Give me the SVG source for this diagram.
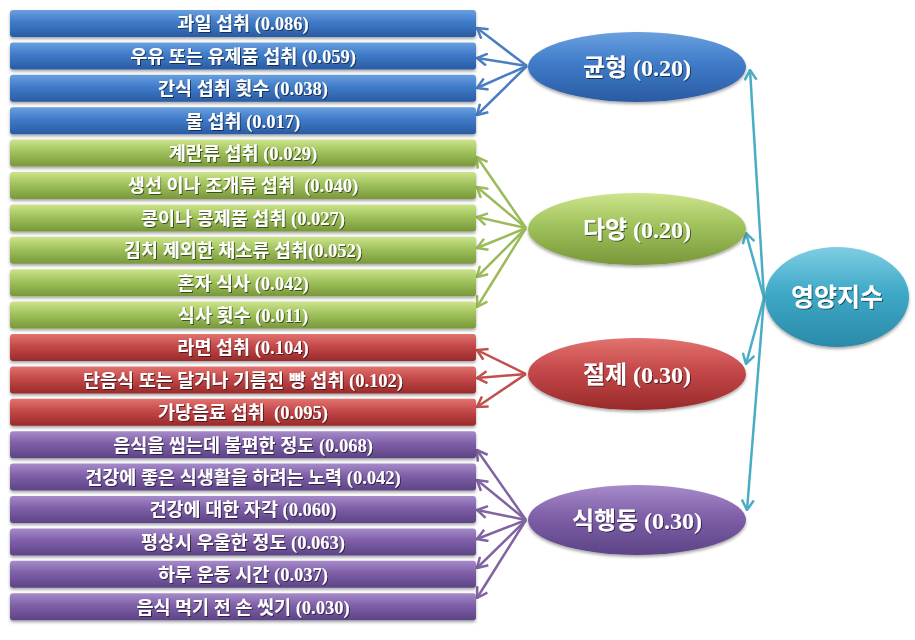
<svg xmlns="http://www.w3.org/2000/svg" width="915" height="640" viewBox="0 0 915 640">
<defs>
<linearGradient id="gB" x1="0" y1="0" x2="0" y2="1"><stop offset="0" stop-color="#6aa0df"/><stop offset="0.45" stop-color="#3f7bc8"/><stop offset="1" stop-color="#2a5ba3"/></linearGradient>
<linearGradient id="gG" x1="0" y1="0" x2="0" y2="1"><stop offset="0" stop-color="#cde48c"/><stop offset="0.45" stop-color="#a0c25c"/><stop offset="1" stop-color="#78983a"/></linearGradient>
<linearGradient id="gR" x1="0" y1="0" x2="0" y2="1"><stop offset="0" stop-color="#e2736e"/><stop offset="0.45" stop-color="#c4484a"/><stop offset="1" stop-color="#992a2a"/></linearGradient>
<linearGradient id="gP" x1="0" y1="0" x2="0" y2="1"><stop offset="0" stop-color="#a68bc9"/><stop offset="0.45" stop-color="#7f5fa8"/><stop offset="1" stop-color="#5c4485"/></linearGradient>
<linearGradient id="gC" x1="0" y1="0" x2="0" y2="1"><stop offset="0" stop-color="#7fcde3"/><stop offset="0.45" stop-color="#3fa9c8"/><stop offset="1" stop-color="#2a8aa8"/></linearGradient>
<filter id="sh" x="-5%" y="-20%" width="110%" height="150%"><feDropShadow dx="0" dy="2" stdDeviation="1.5" flood-color="#000" flood-opacity="0.35"/></filter>
<filter id="ts" x="-5%" y="-20%" width="110%" height="150%"><feDropShadow dx="1" dy="1" stdDeviation="0.6" flood-color="#000" flood-opacity="0.55"/></filter>
<marker id="mB" markerUnits="userSpaceOnUse" viewBox="0 0 12 14" refX="11" refY="7" markerWidth="12" markerHeight="14" orient="auto"><path d="M1,1 L11,7 L1,13" fill="none" stroke="#4a7ec0" stroke-width="2.5"/></marker>
<marker id="mG" markerUnits="userSpaceOnUse" viewBox="0 0 12 14" refX="11" refY="7" markerWidth="12" markerHeight="14" orient="auto"><path d="M1,1 L11,7 L1,13" fill="none" stroke="#9bbb59" stroke-width="2.5"/></marker>
<marker id="mR" markerUnits="userSpaceOnUse" viewBox="0 0 12 14" refX="11" refY="7" markerWidth="12" markerHeight="14" orient="auto"><path d="M1,1 L11,7 L1,13" fill="none" stroke="#c0504d" stroke-width="2.5"/></marker>
<marker id="mP" markerUnits="userSpaceOnUse" viewBox="0 0 12 14" refX="11" refY="7" markerWidth="12" markerHeight="14" orient="auto"><path d="M1,1 L11,7 L1,13" fill="none" stroke="#8064a2" stroke-width="2.5"/></marker>
<marker id="mC" markerUnits="userSpaceOnUse" viewBox="0 0 12 14" refX="11" refY="7" markerWidth="12" markerHeight="14" orient="auto"><path d="M1,1 L11,7 L1,13" fill="none" stroke="#4bacc6" stroke-width="2.5"/></marker>
</defs>
<style>
.bx{filter:url(#sh)}
.t{font-family:"Liberation Serif","Noto Sans CJK KR",serif;font-weight:bold;fill:#fff;text-anchor:middle;filter:url(#ts);white-space:pre}
.bt{font-size:18.5px}
.et{font-size:24px}
.ln{stroke-width:2.5;fill:none}
.b{stroke:#4a7ec0;marker-end:url(#mB)}
.g{stroke:#9bbb59;marker-end:url(#mG)}
.r{stroke:#c0504d;marker-end:url(#mR)}
.p{stroke:#8064a2;marker-end:url(#mP)}
.c{stroke:#4bacc6;marker-end:url(#mC)}
</style>
<rect width="915" height="640" fill="#fff"/>

<g id="connectors">
<line class="ln b" x1="527" y1="66" x2="477" y2="28"/>
<line class="ln b" x1="527" y1="66" x2="477" y2="58"/>
<line class="ln b" x1="527" y1="66" x2="477" y2="88"/>
<line class="ln b" x1="527" y1="66" x2="477" y2="115"/>
<line class="ln g" x1="526" y1="228" x2="477" y2="157"/>
<line class="ln g" x1="526" y1="228" x2="477" y2="187"/>
<line class="ln g" x1="526" y1="228" x2="477" y2="217"/>
<line class="ln g" x1="526" y1="228" x2="477" y2="248"/>
<line class="ln g" x1="526" y1="228" x2="477" y2="277"/>
<line class="ln g" x1="526" y1="228" x2="477" y2="307"/>
<line class="ln r" x1="526" y1="374" x2="477" y2="350"/>
<line class="ln r" x1="526" y1="374" x2="477" y2="378"/>
<line class="ln r" x1="526" y1="374" x2="477" y2="407"/>
<line class="ln p" x1="526" y1="520" x2="477" y2="450"/>
<line class="ln p" x1="526" y1="520" x2="477" y2="480"/>
<line class="ln p" x1="526" y1="520" x2="477" y2="510"/>
<line class="ln p" x1="526" y1="520" x2="477" y2="539"/>
<line class="ln p" x1="526" y1="520" x2="477" y2="568"/>
<line class="ln p" x1="526" y1="520" x2="477" y2="598"/>
<line class="ln c" x1="764" y1="298" x2="750" y2="70"/>
<line class="ln c" x1="764" y1="298" x2="746" y2="233"/>
<line class="ln c" x1="764" y1="298" x2="746" y2="364"/>
<line class="ln c" x1="764" y1="298" x2="747" y2="510"/>
</g>

<g id="b1"><rect class="bx" x="10" y="10" width="466" height="27" rx="3" fill="url(#gB)"/><text class="t bt" x="243" y="30.3">과일 섭취 (0.086)</text></g>
<g id="b2"><rect class="bx" x="10" y="42.4" width="466" height="27" rx="3" fill="url(#gB)"/><text class="t bt" x="243" y="62.7">우유 또는 유제품 섭취 (0.059)</text></g>
<g id="b3"><rect class="bx" x="10" y="74.8" width="466" height="27" rx="3" fill="url(#gB)"/><text class="t bt" x="243" y="95.1">간식 섭취 횟수 (0.038)</text></g>
<g id="b4"><rect class="bx" x="10" y="107.2" width="466" height="27" rx="3" fill="url(#gB)"/><text class="t bt" x="243" y="127.5">물 섭취 (0.017)</text></g>
<g id="g1"><rect class="bx" x="10" y="139.6" width="466" height="27" rx="3" fill="url(#gG)"/><text class="t bt" x="243" y="159.9">계란류 섭취 (0.029)</text></g>
<g id="g2"><rect class="bx" x="10" y="172" width="466" height="27" rx="3" fill="url(#gG)"/><text class="t bt" x="243" y="192.3">생선 이나 조개류 섭취  (0.040)</text></g>
<g id="g3"><rect class="bx" x="10" y="204.4" width="466" height="27" rx="3" fill="url(#gG)"/><text class="t bt" x="243" y="224.7">콩이나 콩제품 섭취 (0.027)</text></g>
<g id="g4"><rect class="bx" x="10" y="236.8" width="466" height="27" rx="3" fill="url(#gG)"/><text class="t bt" x="243" y="257.1">김치 제외한 채소류 섭취(0.052)</text></g>
<g id="g5"><rect class="bx" x="10" y="269.2" width="466" height="27" rx="3" fill="url(#gG)"/><text class="t bt" x="243" y="289.5">혼자 식사 (0.042)</text></g>
<g id="g6"><rect class="bx" x="10" y="301.6" width="466" height="27" rx="3" fill="url(#gG)"/><text class="t bt" x="243" y="321.9">식사 횟수 (0.011)</text></g>
<g id="r1"><rect class="bx" x="10" y="334" width="466" height="27" rx="3" fill="url(#gR)"/><text class="t bt" x="243" y="354.3">라면 섭취 (0.104)</text></g>
<g id="r2"><rect class="bx" x="10" y="366.4" width="466" height="27" rx="3" fill="url(#gR)"/><text class="t bt" x="243" y="386.7">단음식 또는 달거나 기름진 빵 섭취 (0.102)</text></g>
<g id="r3"><rect class="bx" x="10" y="398.8" width="466" height="27" rx="3" fill="url(#gR)"/><text class="t bt" x="243" y="419.1">가당음료 섭취  (0.095)</text></g>
<g id="p1"><rect class="bx" x="10" y="431.2" width="466" height="27" rx="3" fill="url(#gP)"/><text class="t bt" x="243" y="451.5">음식을 씹는데 불편한 정도 (0.068)</text></g>
<g id="p2"><rect class="bx" x="10" y="463.6" width="466" height="27" rx="3" fill="url(#gP)"/><text class="t bt" x="243" y="483.9">건강에 좋은 식생활을 하려는 노력 (0.042)</text></g>
<g id="p3"><rect class="bx" x="10" y="496" width="466" height="27" rx="3" fill="url(#gP)"/><text class="t bt" x="243" y="516.3">건강에 대한 자각 (0.060)</text></g>
<g id="p4"><rect class="bx" x="10" y="528.4" width="466" height="27" rx="3" fill="url(#gP)"/><text class="t bt" x="243" y="548.7">평상시 우울한 정도 (0.063)</text></g>
<g id="p5"><rect class="bx" x="10" y="560.8" width="466" height="27" rx="3" fill="url(#gP)"/><text class="t bt" x="243" y="581.1">하루 운동 시간 (0.037)</text></g>
<g id="p6"><rect class="bx" x="10" y="593.2" width="466" height="27" rx="3" fill="url(#gP)"/><text class="t bt" x="243" y="613.5">음식 먹기 전 손 씻기 (0.030)</text></g>

<g id="e1"><ellipse class="bx" cx="637" cy="67" rx="109" ry="35" fill="url(#gB)"/><text class="t et" x="637" y="75.5">균형 (0.20)</text></g>
<g id="e2"><ellipse class="bx" cx="637" cy="229" rx="109" ry="36" fill="url(#gG)"/><text class="t et" x="637" y="237.5">다양 (0.20)</text></g>
<g id="e3"><ellipse class="bx" cx="637" cy="374" rx="109" ry="36" fill="url(#gR)"/><text class="t et" x="637" y="382.5">절제 (0.30)</text></g>
<g id="e4"><ellipse class="bx" cx="637" cy="520" rx="109" ry="35" fill="url(#gP)"/><text class="t et" x="637" y="528.5">식행동 (0.30)</text></g>
<g id="root"><ellipse class="bx" cx="837" cy="297" rx="72" ry="50" fill="url(#gC)"/><text class="t" style="font-size:25px" x="837" y="306">영양지수</text></g>
</svg>
